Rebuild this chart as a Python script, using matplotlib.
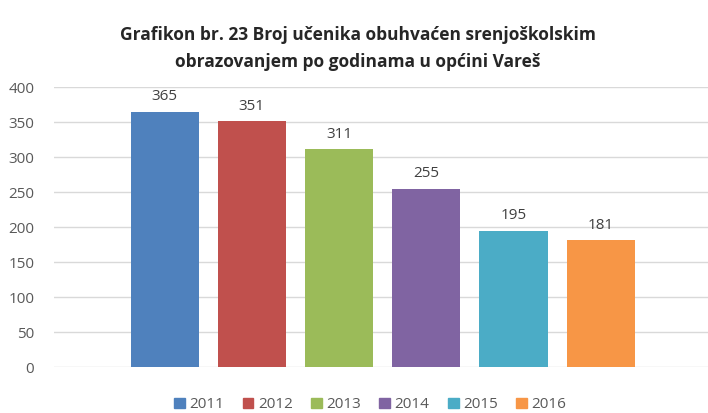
import matplotlib.pyplot as plt
from matplotlib.patches import Patch

plt.rcParams['font.family'] = ['Open Sans', 'DejaVu Sans']

# data
years = ['2011', '2012', '2013', '2014', '2015', '2016']
students = [365, 351, 311, 255, 195, 181]
colors = ['#4F81BD', '#C0504D', '#9BBB59', '#8064A2', '#4BACC6', '#F79646']

fig = plt.figure(figsize=(7.08, 4.13), dpi=100)
ax = fig.add_axes([0.076, 0.111, 0.924, 0.678])

x = list(range(len(years)))
bars = ax.bar(x, students, width=0.78, color=colors, zorder=3)
for b, v in zip(bars, students):
    ax.text(b.get_x() + b.get_width() / 2, v + 11, str(v), ha='center', va='bottom',
            fontsize=11, color='#404040')

ax.set_xlim(-1.27, 6.23)
ax.set_ylim(0, 400)
ax.set_yticks(range(0, 401, 50))
ax.set_xticks([])
ax.grid(axis='y', color='#D9D9D9', linewidth=1, zorder=0)
for s in ax.spines.values():
    s.set_visible(False)
ax.tick_params(axis='y', length=0, labelsize=11, labelcolor='#595959', pad=14)

fig.text(0.505, 0.883, 'Grafikon br. 23 Broj učenika obuhvaćen srenjoškolskim\nobrazovanjem po godinama u općini Vareš',
         ha='center', va='center', fontsize=12.5, fontweight='bold', color='#262626', linespacing=1.6)

handles = [Patch(color=c, label=y) for c, y in zip(colors, years)]
fig.legend(handles=handles, loc='center', bbox_to_anchor=(0.523, 0.02), ncol=6, frameon=False,
           fontsize=11, handlelength=0.7, handleheight=0.7, handletextpad=0.3, columnspacing=1.2,
           labelcolor='#595959')

plt.savefig('out.png', dpi=100)
